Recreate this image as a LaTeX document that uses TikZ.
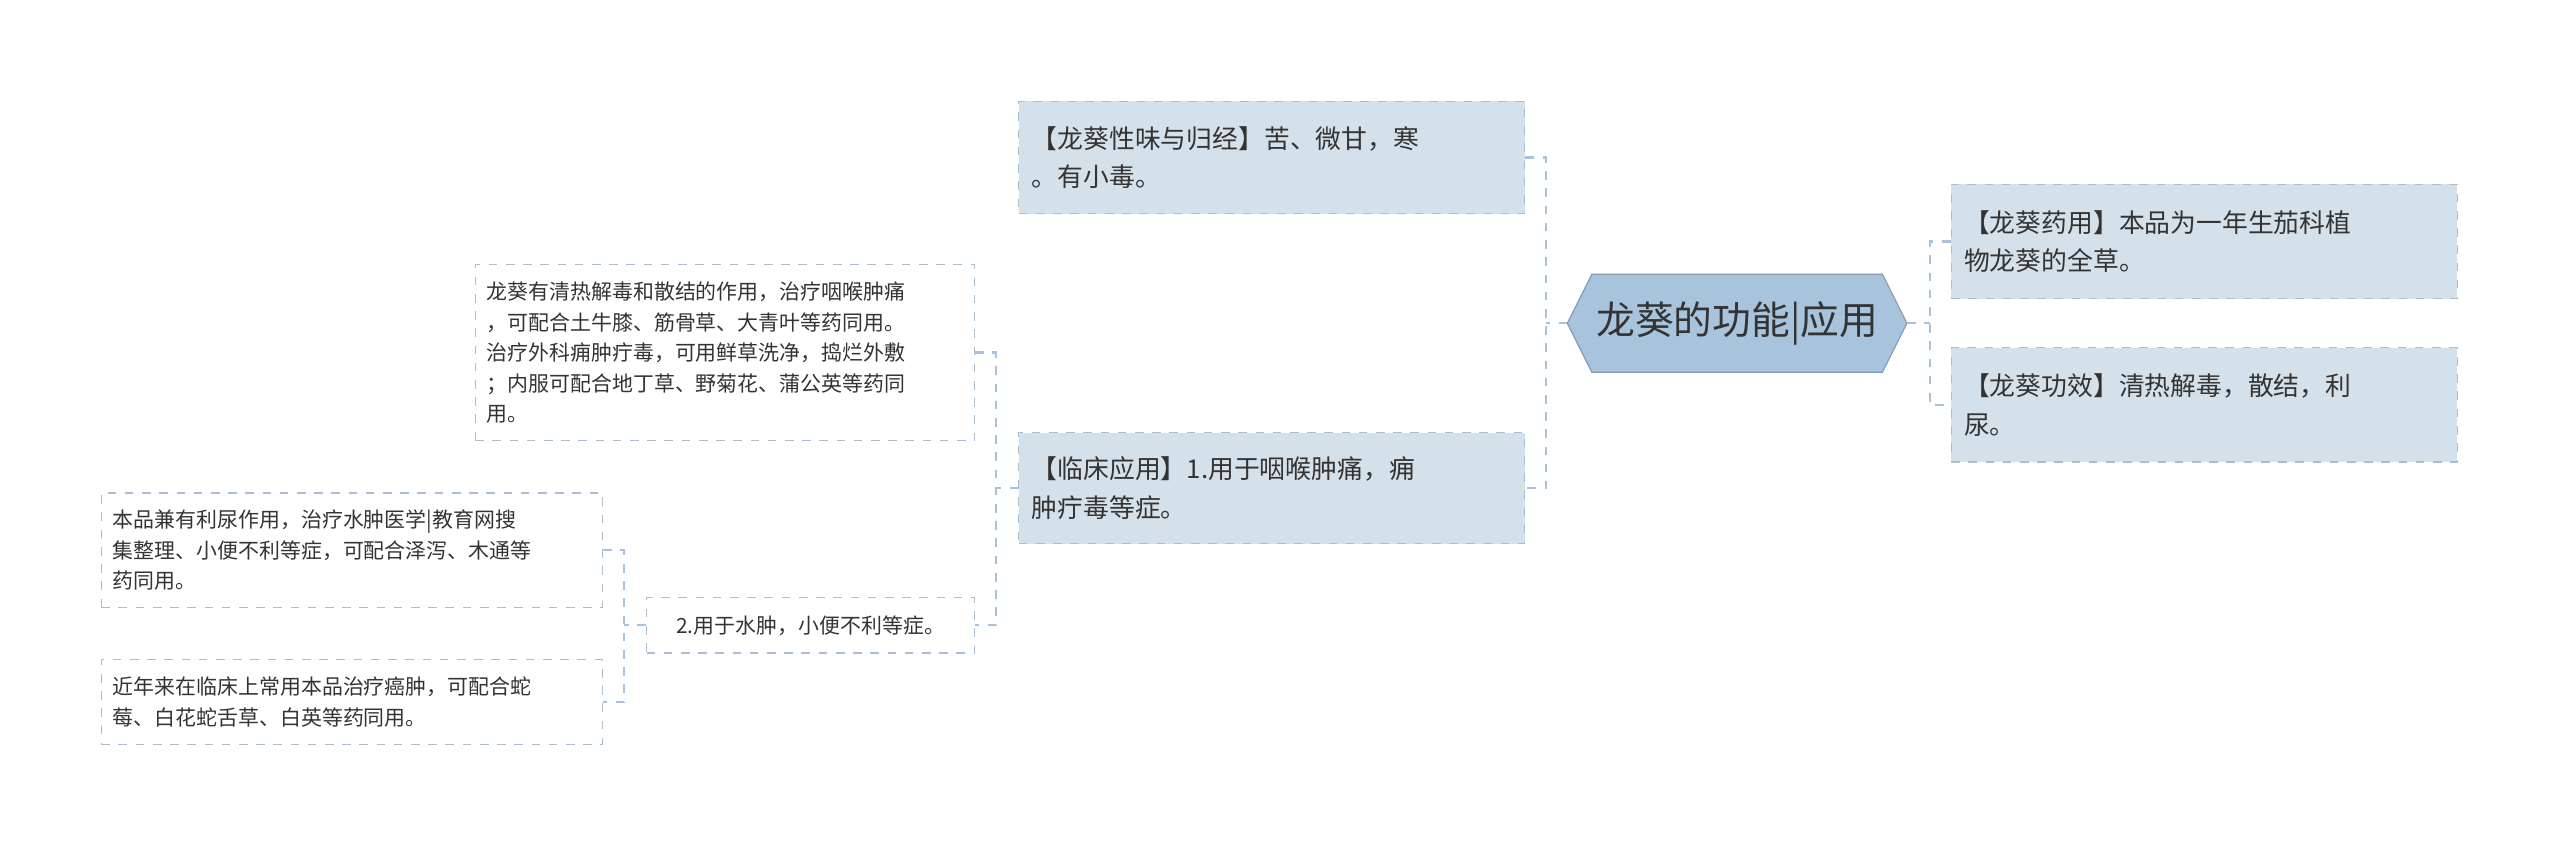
\documentclass[tikz,border=0pt]{standalone}
\usepackage{fontspec}
\setmainfont{Noto Sans CJK SC}
\begin{document}
\begin{tikzpicture}[x=0.02cm,y=-0.02cm,
  box/.style={draw=bord,dashed,fill=boxfill,inner xsep=0.16cm,inner ysep=0,text width=5.88cm,minimum width=6.2cm,align=left,text=txt,font=\fontsize{9pt}{13.5pt}\selectfont},
  sub/.style={draw=bord,dashed,inner xsep=0.14cm,inner ysep=0,align=left,text=txt,font=\fontsize{7.3pt}{10.6pt}\selectfont},
  conn/.style={draw=lnk,dashed,thick}]
\definecolor{bord}{HTML}{A9BED0}
\definecolor{boxfill}{HTML}{D5E1EA}
\definecolor{txt}{HTML}{333333}
\definecolor{lnk}{HTML}{A9C2DA}
\definecolor{cfill}{HTML}{A8C3DC}
\useasboundingbox (0,0) rectangle (1568,519);
% center
\fill[cfill,draw=cfill!80!black] (960,198)--(975,168)--(1153,168)--(1168,198)--(1153,228)--(975,228)--cycle;
\node[text=txt,font=\fontsize{13.5pt}{16pt}\selectfont] (c) at (1064,198) {龙葵的功能|应用};
\coordinate (cl) at (960,198); \coordinate (cr) at (1168,198);
% right
\node[box,minimum height=1.4cm] (r1) at (1350,148) {【龙葵药用】本品为一年生茄科植\\物龙葵的全草。};
\node[box,minimum height=1.4cm] (r2) at (1350,248) {【龙葵功效】清热解毒，散结，利\\尿。};
% left
\node[box,minimum height=1.38cm] (l1) at (779,96.5) {【龙葵性味与归经】苦、微甘，寒\\。有小毒。};
\node[box,minimum height=1.36cm] (l2) at (779,299) {【临床应用】1.用于咽喉肿痛，痈\\肿疔毒等症。};
% subs
\node[sub,minimum width=6.12cm,text width=5.84cm,minimum height=2.16cm] (s1) at (444,216) {龙葵有清热解毒和散结的作用，治疗咽喉肿痛\\，可配合土牛膝、筋骨草、大青叶等药同用。\\治疗外科痈肿疔毒，可用鲜草洗净，捣烂外敷\\；内服可配合地丁草、野菊花、蒲公英等药同\\用。};
\node[sub,align=center,minimum width=4.02cm,minimum height=0.68cm] (s2) at (496.5,383) {2.用于水肿，小便不利等症。};
\node[sub,minimum width=6.14cm,text width=5.86cm,minimum height=1.4cm] (s3) at (215.5,337) {本品兼有利尿作用，治疗水肿医学|教育网搜\\集整理、小便不利等症，可配合泽泻、木通等\\药同用。};
\node[sub,minimum width=6.14cm,text width=5.86cm,minimum height=1.04cm] (s4) at (215.5,430) {近年来在临床上常用本品治疗癌肿，可配合蛇\\莓、白花蛇舌草、白英等药同用。};
% connectors
\draw[conn] (cl) -- (947,198);
\draw[conn] (l1.east) -| (947,198) |- (l2.east);
\draw[conn] (cr) -- (1182,198);
\draw[conn] (r1.west) -| (1182,198) |- (r2.west);
\draw[conn] (l2.west) -- (610,299);
\draw[conn] (s1.east) -| (610,299) |- (s2.east);
\draw[conn] (s2.west) -- (382,383);
\draw[conn] (s3.east) -| (382,383) |- (s4.east);
\end{tikzpicture}
\end{document}
